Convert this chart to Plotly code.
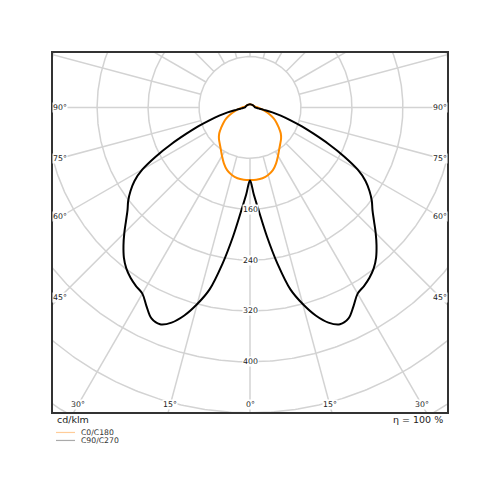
import numpy as np
import plotly.graph_objects as go

# ---- data (cd/klm) ----
angles_c90 = [0, 2.5, 5, 7.5, 10, 12.5, 15, 17.5, 20, 22.5, 25, 27.5, 30, 32.5, 35, 37.5,
              40, 42.5, 45, 47.5, 50, 52.5, 55, 57.5, 60, 62.5, 65, 67.5, 70, 72.5, 75,
              77.5, 80, 82.5, 85, 90, 100, 120, 150, 180]
values_c90 = [115, 137, 165, 205, 250, 293, 320, 343, 360, 369, 366, 352, 338, 333, 327, 319,
              308, 294, 279, 264, 251, 241, 229, 215, 195, 166, 136, 108, 86, 66, 50,
              36, 22, 15, 11, 8, 7, 6, 5, 5]
angles_c0 = [0, 5, 10, 15, 20, 25, 30, 35, 40, 45, 50, 55, 60, 65, 70, 75, 80, 85, 90,
             100, 120, 150, 180]
values_c0 = [114, 114, 113, 110, 105, 97, 88, 80, 74, 69, 63, 55, 48, 41, 33, 26, 20, 15, 12,
             8, 6, 5, 5]
circle_values = [80, 160, 240, 320, 400, 480, 560]
radial_labels = [160, 240, 320, 400]
angle_labels = [0, 15, 30, 45, 60, 75, 90]
series_names = ["C0/C180", "C90/C270"]

FONT = "DejaVu Sans"
S = 0.637  # px per unit
XR = 197 / S
YT = 54.5 / S
YB = -305 / S
OFF = 8  # page body margin


def to_xy(theta_deg, r):
    t = np.radians(np.asarray(theta_deg, dtype=float))
    r = np.asarray(r, dtype=float)
    return r * np.sin(t), -r * np.cos(t)


fig = go.Figure()

# grid circles
gx, gy = [], []
phi = np.linspace(0, 360, 721)
for rv in circle_values:
    x, y = to_xy(phi, np.full_like(phi, rv))
    gx += list(x) + [None]
    gy += list(y) + [None]
# spokes
for a in range(0, 360, 15):
    x, y = to_xy([a, a], [80, 900])
    gx += list(x) + [None]
    gy += list(y) + [None]
fig.add_trace(go.Scatter(x=gx, y=gy, mode="lines", line=dict(color="#d3d3d3", width=1.5),
                         hoverinfo="skip", showlegend=False))

# C0/C180 (orange): closed loop starting and ending at top (180)
a0 = np.array(angles_c0, dtype=float)
v0 = np.array(values_c0, dtype=float)
th_path = np.concatenate([-a0[::-1], a0[1:]])
rv_path = np.concatenate([v0[::-1], v0[1:]])
x0, y0 = to_xy(th_path, rv_path)
fig.add_trace(go.Scatter(x=x0, y=y0, mode="lines",
                         line=dict(color="#ff8c00", width=2, shape="spline", smoothing=1),
                         name=series_names[0], showlegend=False))

# C90/C270 (black): from 0 up left side to 180, down right side to 0
a1 = np.array(angles_c90, dtype=float)
v1 = np.array(values_c90, dtype=float)
th1 = np.concatenate([-a1, a1[::-1][1:]])
rv1 = np.concatenate([v1, v1[::-1][1:]])
x1, y1 = to_xy(th1, rv1)
fig.add_trace(go.Scatter(x=x1, y=y1, mode="lines",
                         line=dict(color="black", width=2, shape="spline", smoothing=1),
                         name=series_names[1], showlegend=False))

annotations = []
tick_font = dict(family=FONT, size=7.8, color="#222")
for rv_ in radial_labels:
    annotations.append(dict(x=0, y=-rv_, xref="x", yref="y", text=str(rv_), showarrow=False,
                            font=tick_font, bgcolor="white", borderpad=0,
                            xanchor="center", yanchor="middle"))
SIDE = 190 / S
BOT = 297.5 / S
for a in angle_labels:
    t = np.radians(a)
    r_side = SIDE / np.sin(t) if a > 0 else np.inf
    r_bot = BOT / np.cos(t) if a < 90 else np.inf
    r = min(r_side, r_bot)
    for sgn in ([1] if a == 0 else [-1, 1]):
        x, y = to_xy(sgn * a, r)
        annotations.append(dict(x=float(x), y=float(y), xref="x", yref="y", text=f"{a}°",
                                showarrow=False, font=tick_font, bgcolor="white", borderpad=0,
                                xanchor="center", yanchor="middle"))

L, T, W, H = 53, 53, 394, 359.5


def px(xp):
    return (xp - L) / W


def py(yp):
    return (T + H - yp) / H


annotations.append(dict(x=px(55), y=py(420), xref="paper", yref="paper", text="cd/klm",
                        showarrow=False, xanchor="left", yanchor="middle",
                        font=dict(family=FONT, size=9.5, color="#222")))
annotations.append(dict(x=px(445), y=py(420), xref="paper", yref="paper", text="η = 100 %",
                        showarrow=False, xanchor="right", yanchor="middle",
                        font=dict(family=FONT, size=9.5, color="#222")))
legend_colors = ["#ffcc99", "#aaaaaa"]
legend_y = [433, 441]
shapes = []
for name, col, ly in zip(series_names, legend_colors, legend_y):
    shapes.append(dict(type="line", xref="paper", yref="paper", x0=px(56), x1=px(75),
                       y0=py(ly), y1=py(ly), line=dict(color=col, width=1.2)))
    annotations.append(dict(x=px(79), y=py(ly), xref="paper", yref="paper", text=name,
                            showarrow=False, xanchor="left", yanchor="middle",
                            font=dict(family=FONT, size=7.7, color="#333")))

FW = 500 - 2 * OFF
ml, mt = L - OFF, T - OFF
fig.update_layout(width=FW, height=FW,
                  margin=dict(l=ml, r=FW - ml - W, t=mt, b=FW - mt - H, pad=0),
                  plot_bgcolor="white", paper_bgcolor="white", showlegend=False,
                  annotations=annotations, shapes=shapes)
axis_common = dict(showgrid=False, zeroline=False, showticklabels=False, ticks="",
                   showline=True, mirror=True, linecolor="#333", linewidth=1.5, fixedrange=True)
fig.update_xaxes(range=[-XR, XR], **axis_common)
fig.update_yaxes(range=[YB, YT], **axis_common)

fig.write_html("out.html")
